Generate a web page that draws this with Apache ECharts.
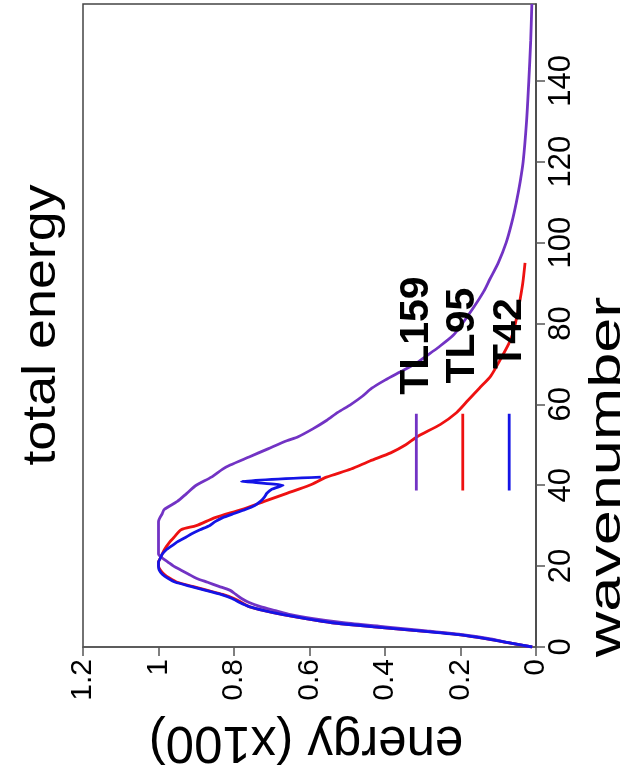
<!DOCTYPE html>
<html>
<head>
<meta charset="utf-8">
<script src="https://cdn.jsdelivr.net/npm/echarts@6/dist/echarts.min.js"></script>
<style>
html,body{margin:0;padding:0;background:#fff;}
#c{width:638px;height:783px;}
</style>
</head>
<body>
<div id="c"></div>
<script>
// ---- data (wavenumber, normalized energy) ----
const tl159Wave = [0,1,2,3,4,5,6,7,8,9,10,11,12,13,14,15,16,17,18,19,20,21,22,23,25,28,31,33,34,36,38,40,42,44,45,47,49,51,52,54,56,58,60,62,64,66,68,70,72,74,77,80,84,88,91,95,100,105,110,115,120,130,140,150,159];
const tl159Energy = [0.01,0.07,0.12,0.19,0.29,0.40,0.51,0.59,0.65,0.69,0.73,0.76,0.78,0.795,0.81,0.84,0.87,0.90,0.92,0.94,0.96,0.975,0.99,1.0,1.0,1.0,1.0,0.99,0.985,0.95,0.925,0.90,0.86,0.83,0.81,0.76,0.71,0.66,0.63,0.59,0.555,0.525,0.49,0.46,0.435,0.40,0.36,0.32,0.29,0.26,0.22,0.195,0.165,0.138,0.122,0.10,0.079,0.064,0.052,0.042,0.034,0.025,0.019,0.014,0.011];

const tl95Wave = [0,1,2,3,4,5,6,7,8,9,10,11,12,13,14,15,16,17,18,19,20,21,22,24,26,27,29,30,32,34,36,38,40,42,44,46,48,50,52,55,58,61,64,67,71,75,78,82,86,90,95];
const tl95Energy = [0.01,0.07,0.13,0.20,0.31,0.43,0.54,0.61,0.67,0.72,0.76,0.78,0.80,0.83,0.87,0.91,0.95,0.97,0.985,0.995,1.0,1.0,0.995,0.985,0.97,0.96,0.94,0.90,0.85,0.78,0.72,0.66,0.60,0.555,0.49,0.44,0.385,0.345,0.315,0.254,0.21,0.18,0.15,0.12,0.095,0.072,0.060,0.050,0.042,0.035,0.029];

const t42Wave = [0,1,2,3,4,5,6,7,8,9,10,11,12,13,14,15,16,17,18,19,20,21,22,23,24,25,26,27,28,29,30,31,32,33,34,35,36,37,38,39,40,41,42];
const t42Energy = [0.01,0.07,0.13,0.20,0.31,0.43,0.54,0.61,0.67,0.72,0.76,0.785,0.805,0.835,0.875,0.915,0.955,0.975,0.99,0.998,1.0,1.0,0.995,0.99,0.98,0.965,0.95,0.93,0.912,0.89,0.865,0.85,0.83,0.80,0.77,0.745,0.73,0.72,0.713,0.70,0.67,0.78,0.57];

// legend marks: energy position, wavenumber span, label centre
const markNames = ['TL159','TL95','T42'];
const markEnergy = [0.317,0.194,0.071];
const markWaveSpan = [38.7,57.7];
const markLabelWave = [77,77,77.5];

// axis ticks
const energyTicks = [0,0.2,0.4,0.6,0.8,1,1.2];
const waveTicks = [0,20,40,60,80,100,120,140];
const waveMax = 159;

const colors = {TL159:'#7233c4', TL95:'#ee1111', T42:'#1414e6'};
const FONT = 'Liberation Sans, Arial, Helvetica, sans-serif';

function pairs(w,e){ return w.map((k,i)=>[e[i],k]); }

const chart = echarts.init(document.getElementById('c'), null, {renderer:'canvas'});

const series = [
  {name:'TL95', type:'line', data:pairs(tl95Wave,tl95Energy), showSymbol:false, symbol:'none', smooth:0.25,
   lineStyle:{color:colors.TL95,width:2.8}, z:2, animation:false},
  {name:'TL159', type:'line', data:pairs(tl159Wave,tl159Energy), showSymbol:false, symbol:'none', smooth:0.25,
   lineStyle:{color:colors.TL159,width:2.8}, z:3, animation:false},
  {name:'T42', type:'line', data:pairs(t42Wave,t42Energy), showSymbol:false, symbol:'none', smooth:0.15,
   lineStyle:{color:colors.T42,width:2.8}, z:4, animation:false}
];
markNames.forEach((n,i)=>{
  series.push({name:n+'-mark', type:'line', symbol:'none', animation:false,
    data:[[markEnergy[i],markWaveSpan[0]],[markEnergy[i],markWaveSpan[1]]],
    lineStyle:{color:colors[n],width:2.8}, z:5});
  series.push({name:n+'-label', type:'scatter', symbolSize:0, animation:false, silent:true,
    itemStyle:{opacity:1},
    data:[[markEnergy[i],markLabelWave[i]]],
    label:{show:true, position:'inside', rotate:90, formatter:n, color:'#000', opacity:1,
      textBorderWidth:0, textShadowBlur:0,
      fontSize:41, fontWeight:'bold', fontFamily:FONT}, z:6});
});

chart.setOption({
  backgroundColor:'#fff',
  animation:false,
  grid:{left:83, right:102, top:4, bottom:136, show:true, borderColor:'#444', borderWidth:1.5, backgroundColor:'transparent'},
  xAxis:{type:'value', min:0, max:1.2, interval:0.2, inverse:true, position:'bottom',
    splitLine:{show:false},
    axisLine:{show:true, onZero:false, lineStyle:{color:'#555',width:1.5}},
    axisTick:{show:true, length:9, lineStyle:{color:'#555',width:1.5}},
    axisLabel:{rotate:90, fontSize:30, color:'#000', fontFamily:FONT, margin:12,
      formatter:v=>String(+v.toFixed(1))}
  },
  yAxis:{type:'value', min:0, max:waveMax, interval:20, position:'right',
    splitLine:{show:false},
    axisLine:{show:true, onZero:false, lineStyle:{color:'#444',width:1.5}},
    axisTick:{show:true, length:9, lineStyle:{color:'#555',width:1.5}},
    axisLabel:{rotate:90, fontSize:31, color:'#000', fontFamily:FONT, margin:10,
      showMaxLabel:false}
  },
  graphic:[
    {type:'text', x:42, y:325, rotation:Math.PI/2, scaleX:1.17,
     style:{text:'total energy', fontSize:46, fontFamily:FONT, fill:'#000', textAlign:'center', textVerticalAlign:'middle'}},
    {type:'text', x:608, y:477, rotation:Math.PI/2, scaleX:1.4,
     style:{text:'wavenumber', fontSize:45, fontFamily:FONT, fill:'#000', textAlign:'center', textVerticalAlign:'middle'}},
    {type:'text', x:306, y:741, rotation:Math.PI,
     style:{text:'energy (x100)', fontSize:51, fontFamily:FONT, fill:'#000', textAlign:'center', textVerticalAlign:'middle'}}
  ],
  series:series
});
</script>
</body>
</html>
